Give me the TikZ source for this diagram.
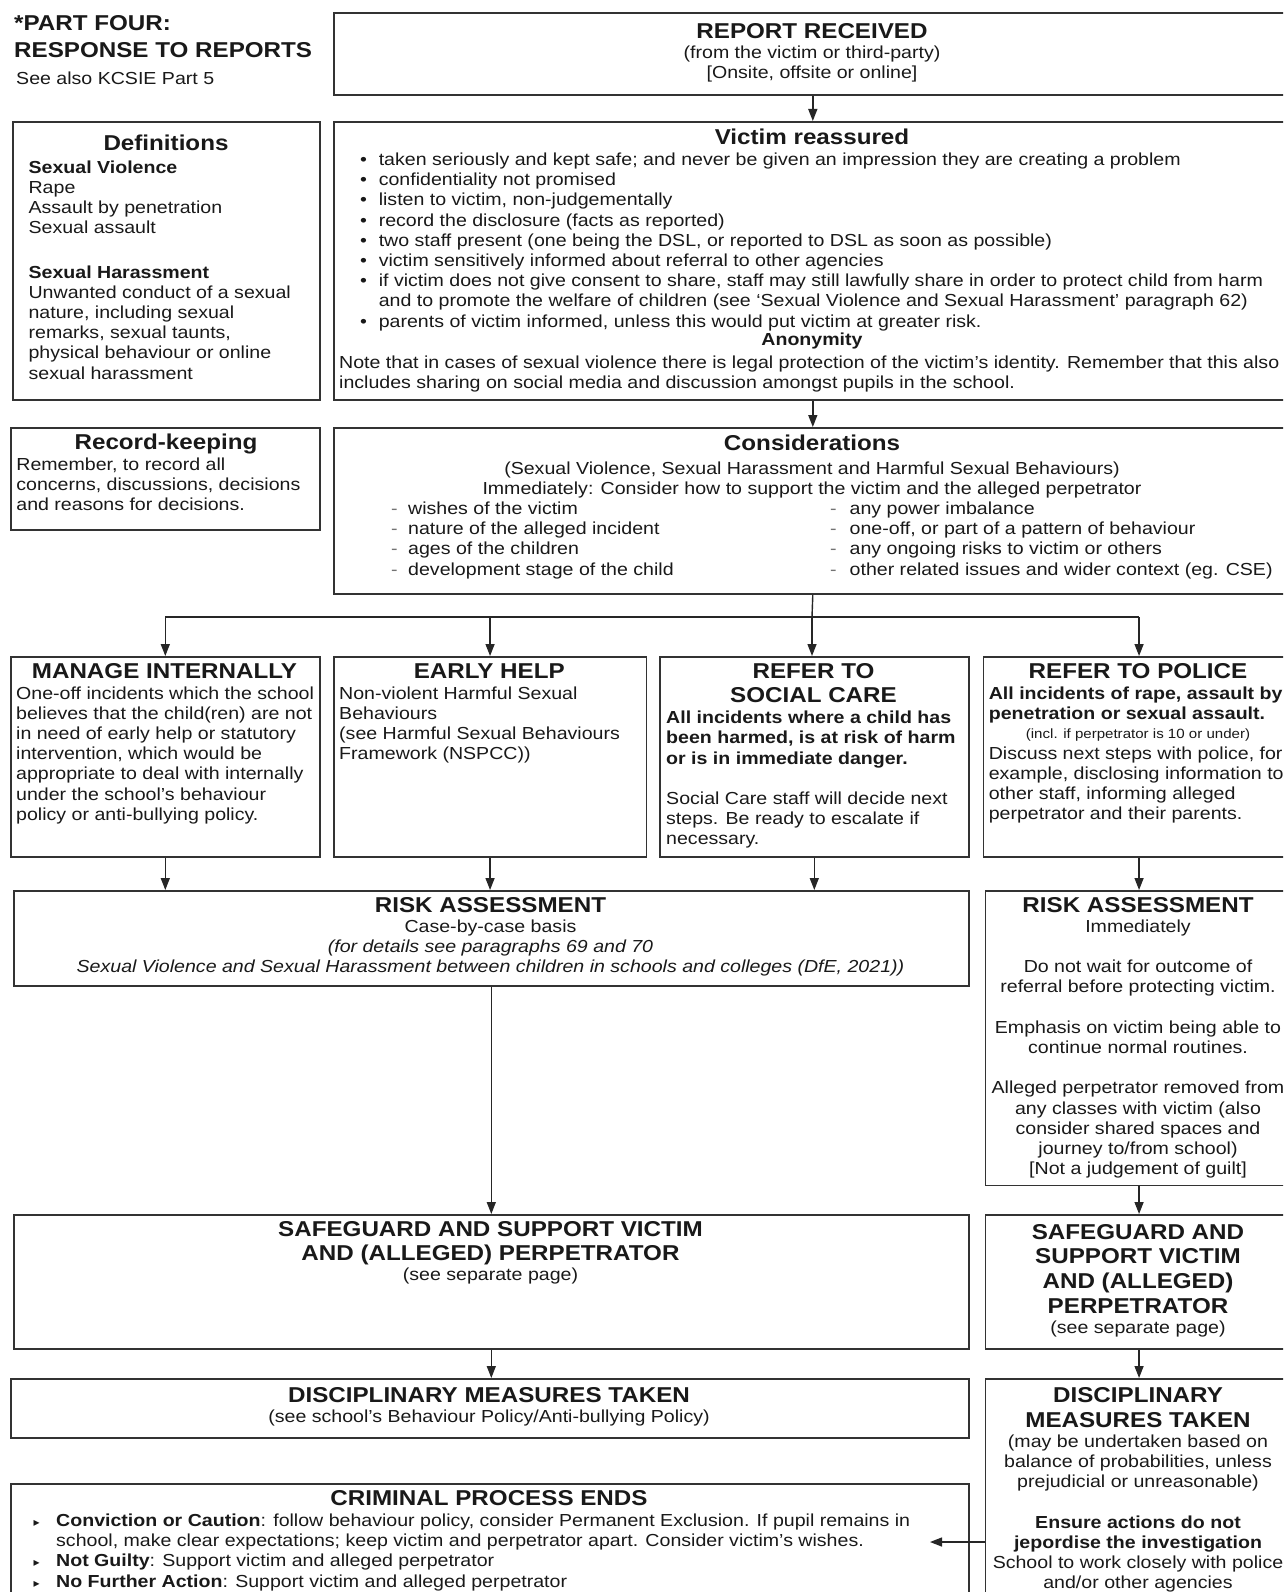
\documentclass[tikz,border=0pt]{standalone}
\usepackage{fontspec}
\setmainfont{Liberation Sans}[FakeStretch=1.125]
\newfontfamily\dejavu{DejaVu Sans}
\usetikzlibrary{arrows.meta}
\newcommand\TitleF{\fontsize{21.5}{24.7}\selectfont\bfseries}
\newcommand\BodyF{\fontsize{17.4}{20.2}\selectfont}
\newcommand\SmallF{\fontsize{13.4}{16}\selectfont}
\newcommand\bitem[1]{\par\hangindent=39.6pt\hangafter=1\noindent\makebox[39.6pt][l]{\hspace{21pt}\textbullet}#1}
\newcommand\citem[1]{\par\hangindent=22.5pt\hangafter=1\noindent\makebox[22.5pt][l]{{\dejavu\fontsize{12}{12}\selectfont ▸}}#1}
\newcommand\ditem[2]{\par\noindent\makebox[#1][l]{\textcolor{black!55}{-}}#2}
\newcommand\mkbox[5]{\node[box, minimum width=#4pt, minimum height=#5pt] (#1) at (#2,#3) {};}
\tikzset{
  box/.style={draw=black!80, line width=1.6pt, inner sep=0pt, anchor=north west},
  lt/.style={inner sep=0pt, anchor=base west, text=black!90},
  ct/.style={inner sep=0pt, anchor=base, text=black!90},
  arr/.style={draw=black!85, line width=1.4pt, -{Triangle[width=9pt,length=12pt]}},
  ln/.style={draw=black!85, line width=1.4pt},
}
\begin{document}
\begin{tikzpicture}[x=1pt,y=-1pt]
\useasboundingbox (0,0) rectangle (1283,1592);
\clip (0,0) rectangle (1283,1592);
\fill[white] (0,0) rectangle (1283,1592);

% ---------- boxes ----------
\mkbox{rr}{333}{12}{958}{82.4}
\mkbox{defs}{12}{121}{307}{278}
\mkbox{vr}{333}{121}{958}{278}
\mkbox{rk}{10}{427}{309}{102}
\mkbox{cons}{333}{427}{958}{166}
\mkbox{mi}{10}{656}{309}{200}
\mkbox{eh}{333}{656}{312.5}{200}
\mkbox{sc}{659}{656}{309}{200}
\mkbox{pol}{982.5}{656}{311.5}{200}
\mkbox{ra}{13}{890}{955}{95}
\mkbox{rra}{984.5}{890}{307.5}{294.5}
\mkbox{sg}{13}{1214}{955}{134}
\mkbox{rsg}{984.5}{1214}{307.5}{134}
\mkbox{dm}{10}{1378}{958}{59}
\mkbox{rdm}{984.5}{1378}{307.5}{240}
\mkbox{crim}{10}{1483}{958}{130}

% ---------- title ----------
\node[lt] (ttl) at (14,31) {\parbox[t]{330pt}{\fontsize{21.5}{26.5}\selectfont\bfseries *PART FOUR:\par RESPONSE TO REPORTS}};
\node[lt] (see) at (16,85) {\BodyF See also KCSIE Part 5};

% ---------- report received ----------
\node[ct] (rr-t) at (812,38.5) {\parbox[t]{900pt}{\centering\TitleF REPORT RECEIVED\par\BodyF\mdseries (from the victim or third-party)\par [Onsite, offsite or online]\par}};

% ---------- victim reassured ----------
\node[ct] (vr-t) at (812,144) {\TitleF Victim reassured};
\node[lt] (vr-b) at (339,165.4) {\parbox[t]{1000pt}{\BodyF\raggedright
\bitem{taken seriously and kept safe; and never be given an impression they are creating a problem}
\bitem{confidentiality not promised}
\bitem{listen to victim, non-judgementally}
\bitem{record the disclosure (facts as reported)}
\bitem{two staff present (one being the DSL, or reported to DSL as soon as possible)}
\bitem{victim sensitively informed about referral to other agencies}
\bitem{if victim does not give consent to share, staff may still lawfully share in order to protect child from harm\newline and to promote the welfare of children (see `Sexual Violence and Sexual Harassment' paragraph 62)}
\bitem{parents of victim informed, unless this would put victim at greater risk.}\par}};
\node[ct] (vr-an) at (812,345) {\BodyF\bfseries Anonymity};
\node[lt] (vr-n) at (339,368.4) {\parbox[t]{1000pt}{\BodyF\raggedright Note that in cases of sexual violence there is legal protection of the victim's identity. Remember that this also\\includes sharing on social media and discussion amongst pupils in the school.}};

% ---------- definitions ----------
\node[ct] (df-t) at (166,150) {\TitleF Definitions};
\node[lt] (df-b) at (28.4,173) {\parbox[t]{285pt}{\BodyF\raggedright \textbf{Sexual Violence}\\Rape\\Assault by penetration\\Sexual assault\par\vspace{24.2pt}\textbf{Sexual Harassment}\\Unwanted conduct of a sexual\\nature, including sexual\\remarks, sexual taunts,\\physical behaviour or online\\sexual harassment}};

% ---------- record keeping ----------
\node[ct] (rk-t) at (166,449.5) {\TitleF Record-keeping};
\node[lt] (rk-b) at (16.2,470) {\parbox[t]{300pt}{\BodyF\raggedright Remember, to record all\\concerns, discussions, decisions\\and reasons for decisions.}};

% ---------- considerations ----------
\node[ct] (cs-t) at (812,450.5) {\TitleF Considerations};
\node[ct] (cs-s) at (812,474) {\parbox[t]{940pt}{\centering\BodyF (Sexual Violence, Sexual Harassment and Harmful Sexual Behaviours)\par Immediately: Consider how to support the victim and the alleged perpetrator\par}};
\node[lt] (cs-l) at (391,514.5) {\parbox[t]{420pt}{\BodyF\raggedright
\ditem{17pt}{wishes of the victim}
\ditem{17pt}{nature of the alleged incident}
\ditem{17pt}{ages of the children}
\ditem{17pt}{development stage of the child}\par}};
\node[lt] (cs-r) at (830,514.5) {\parbox[t]{460pt}{\BodyF\raggedright
\ditem{19.5pt}{any power imbalance}
\ditem{19.5pt}{one-off, or part of a pattern of behaviour}
\ditem{19.5pt}{any ongoing risks to victim or others}
\ditem{19.5pt}{other related issues and wider context (eg. CSE)}\par}};

% ---------- four options ----------
\node[ct] (mi-t) at (164.5,678) {\TitleF MANAGE INTERNALLY};
\node[lt] (mi-b) at (16,699) {\parbox[t]{305pt}{\BodyF\raggedright One-off incidents which the school\\believes that the child(ren) are not\\in need of early help or statutory\\intervention, which would be\\appropriate to deal with internally\\under the school's behaviour\\policy or anti-bullying policy.}};

\node[ct] (eh-t) at (489.25,678) {\TitleF EARLY HELP};
\node[lt] (eh-b) at (339,699) {\parbox[t]{305pt}{\BodyF\raggedright Non-violent Harmful Sexual\\Behaviours\\(see Harmful Sexual Behaviours\\Framework (NSPCC))}};

\node[ct] (sc-t) at (813.5,678) {\parbox[t]{300pt}{\centering\TitleF REFER TO\par SOCIAL CARE\par}};
\node[lt] (sc-b) at (666,723.6) {\parbox[t]{305pt}{\BodyF\raggedright\textbf{All incidents where a child has\\been harmed, is at risk of harm\\or is in immediate danger.}\par\vspace{20.2pt}Social Care staff will decide next\\steps. Be ready to escalate if\\necessary.}};

\node[ct] (pol-t) at (1138,678) {\TitleF REFER TO POLICE};
\node[lt] (pol-b) at (988.6,699) {\parbox[t]{320pt}{\BodyF\raggedright\textbf{All incidents of rape, assault by\\penetration or sexual assault.}}};
\node[ct] (pol-s) at (1138,738) {\SmallF (incl. if perpetrator is 10 or under)};
\node[lt] (pol-c) at (988.6,759) {\parbox[t]{320pt}{\BodyF\raggedright Discuss next steps with police, for\\example, disclosing information to\\other staff, informing alleged\\perpetrator and their parents.}};

% ---------- risk assessments ----------
\node[ct] (ra-t) at (490.5,912) {\parbox[t]{940pt}{\centering\TitleF RISK ASSESSMENT\par\BodyF\mdseries Case-by-case basis\par\itshape (for details see paragraphs 69 and 70\par Sexual Violence and Sexual Harassment between children in schools and colleges (DfE, 2021))\par}};

\node[ct] (rra-t) at (1138,912) {\parbox[t]{340pt}{\centering\TitleF RISK ASSESSMENT\par\BodyF\mdseries Immediately\par\vspace{20.2pt}Do not wait for outcome of\par referral before protecting victim.\par\vspace{20.2pt}Emphasis on victim being able to\par continue normal routines.\par\vspace{20.2pt}Alleged perpetrator removed from\par any classes with victim (also\par consider shared spaces and\par journey to/from school)\par [Not a judgement of guilt]\par}};

% ---------- safeguard ----------
\node[ct] (sg-t) at (490.5,1236) {\parbox[t]{940pt}{\centering\TitleF SAFEGUARD AND SUPPORT VICTIM\par AND (ALLEGED) PERPETRATOR\par\BodyF\mdseries (see separate page)\par}};
\node[ct] (rsg-t) at (1138,1239) {\parbox[t]{340pt}{\centering\TitleF SAFEGUARD AND\par SUPPORT VICTIM\par AND (ALLEGED)\par PERPETRATOR\par\BodyF\mdseries (see separate page)\par}};

% ---------- disciplinary ----------
\node[ct] (dm-t) at (489,1402.6) {\parbox[t]{940pt}{\centering\TitleF DISCIPLINARY MEASURES TAKEN\par\BodyF\mdseries (see school's Behaviour Policy/Anti-bullying Policy)\par}};
\node[ct] (rdm-t) at (1138,1402.6) {\parbox[t]{340pt}{\centering\TitleF DISCIPLINARY\par MEASURES TAKEN\par\BodyF\mdseries (may be undertaken based on\par balance of probabilities, unless\par prejudicial or unreasonable)\par\vspace{20.2pt}\bfseries Ensure actions do not\par jepordise the investigation\par\mdseries School to work closely with police\par and/or other agencies\par}};

% ---------- criminal process ----------
\node[ct] (cr-t) at (489,1505) {\TitleF CRIMINAL PROCESS ENDS};
\node[lt] (cr-b) at (33.5,1526.5) {\parbox[t]{940pt}{\BodyF\raggedright
\citem{\textbf{Conviction or Caution}: follow behaviour policy, consider Permanent Exclusion. If pupil remains in\newline school, make clear expectations; keep victim and perpetrator apart. Consider victim's wishes.}
\citem{\textbf{Not Guilty}: Support victim and alleged perpetrator}
\citem{\textbf{No Further Action}: Support victim and alleged perpetrator}\par}};

% ---------- connectors ----------
\draw[arr] (rr.south) -- (vr.north);
\draw[arr] (vr.south) -- (cons.north);
\coordinate (bus) at (812,617);
\draw[ln] (cons.south) -- (bus);
\draw[ln] (bus -| mi.north) -- (bus -| pol.north);
\draw[arr] (bus -| mi.north) -- (mi.north);
\draw[arr] (bus -| eh.north) -- (eh.north);
\draw[arr] (bus) -- (bus |- sc.north);
\draw[arr] (bus -| pol.north) -- (pol.north);
\draw[arr] (mi.south) -- (mi.south |- ra.north);
\draw[arr] (eh.south) -- (eh.south |- ra.north);
\draw[arr] (sc.south) -- (sc.south |- ra.north);
\draw[arr] (pol.south) -- (rra.north);
\draw[arr] (ra.south) -- (sg.north);
\draw[arr] (rra.south) -- (rsg.north);
\draw[arr] (sg.south) -- (sg.south |- dm.north);
\draw[arr] (rsg.south) -- (rdm.north);
\coordinate (ce) at (930,1542);
\draw[arr] (ce -| rdm.west) -- (ce);
\end{tikzpicture}
\end{document}
